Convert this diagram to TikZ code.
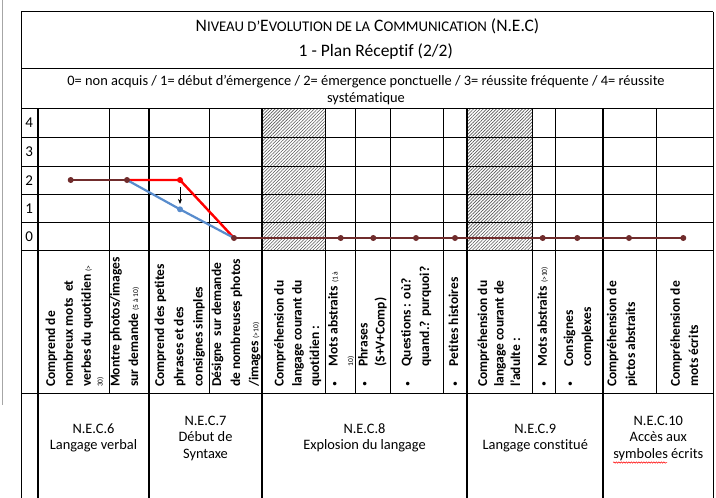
\documentclass[tikz,border=0pt]{standalone}
\usepackage{fontspec}
\setmainfont{Carlito}[Ligatures=NoCommon]
\usetikzlibrary{patterns,patterns.meta,decorations.pathmorphing,arrows.meta}
\definecolor{brn}{RGB}{112,44,44}
\definecolor{blu}{RGB}{88,140,205}
\newcommand\smc[1]{{\fontsize{14.8}{16}\selectfont #1}}
\newcommand\smtx[1]{{\fontsize{7.5}{9}\selectfont\mdseries #1}}
\newcommand\bul{{\fontsize{10}{12}\selectfont\mdseries •}}
\tikzset{
  gthin/.style={line width=0.8pt,black},
  gmid/.style={line width=1.3pt,black},
  gthick/.style={line width=1.9pt,black},
  rot/.style={rotate=90,anchor=base west,inner sep=0pt,font=\fontsize{13.5}{16}\selectfont\bfseries},
  btxt/.style={align=center,inner sep=0pt,font=\fontsize{14.4}{16.5}\selectfont},
  hatch/.style={pattern={Lines[angle=45,distance=2.3pt,line width=0.6pt]},pattern color=black!65},
  brline/.style={brn,line width=2.4pt},
  rdline/.style={red,line width=2.4pt},
  blline/.style={blu,line width=2.2pt},
  dot/.style={circle,inner sep=0pt,minimum size=6pt},
}
\begin{document}
\begin{tikzpicture}[x=1pt,y=-1pt]
\useasboundingbox (0,0) rectangle (716,498);
\fill[white] (0,0) rectangle (716,498);
% page edge
\draw[black!35,line width=0.8pt] (2,0) -- (2,405);
% hatched columns
\fill[hatch] (261.7,108.5) rectangle (325.5,250.7);
\fill[hatch] (466.7,108.5) rectangle (532.3,250.7);
% horizontal lines
\draw[gthin] (21,11.7) -- (713.3,11.7);
\draw[gthin] (21,68.8) -- (713.3,68.8);
\draw[gthick] (21,108.5) -- (713.3,108.5);
\foreach \yy in {137.3,166,194.3,222.7} \draw[gthin] (21,\yy) -- (713.3,\yy);
\draw[gmid] (21,250.7) -- (713.3,250.7);
\draw[gmid] (21,393.3) -- (713.3,393.3);
% vertical lines
\draw[gthin] (21,11.7) -- (21,498);
\draw[gthin] (713.3,11.7) -- (713.3,498);
\foreach \xx in {109.3,209,325.5,355,390.7,443.3,532.3,555.7,656} \draw[gthin] (\xx,108.5) -- (\xx,393.3);
\foreach \xx in {37.7,149.3,261.7,467.3,603.3} \draw[gthick] (\xx,108.5) -- (\xx,498);
% titles
\node[inner sep=0pt,font=\fontsize{17.5}{19}\selectfont] (title) at (367.5,26.7) {N\smc{IVEAU D’}E\smc{VOLUTION DE LA} C\smc{OMMUNICATION} (N.E.C)};
\node[inner sep=0pt,font=\fontsize{17.5}{19}\selectfont] (plan) at (375.8,51.7) {1 - Plan Réceptif (2/2)};
\node[btxt] (legend) at (366,90) {0= non acquis / 1= début d'émergence / 2= émergence ponctuelle / 3= réussite fréquente / 4= réussite\\systématique};
% row labels
\foreach \v/\yy in {4/123,3/151.7,2/180.2,1/208.5,0/236.7}
  \node[inner sep=0pt,font=\fontsize{15}{17}\selectfont] (lab\v) at (29.3,\yy) {\v};
% rotated texts
\node[rot] (a1) at (55,387) {Comprend de};
\node[rot] (a2) at (72.8,387) {nombreux mots\ \ et};
\node[rot] (a3) at (90.8,387) {verbes du quotidien \smtx{(>}};
\node[rot] (a4) at (102.5,387) {\smtx{30)}};
\node[rot] (b1) at (119.6,387) {Montre photos/images};
\node[rot] (b2) at (138,387) {sur demande \smtx{(5 à 10)}};
\node[rot] (c1) at (164,387) {Comprend des petites};
\node[rot] (c2) at (183.4,387) {phrases et des};
\node[rot] (c3) at (202.6,387) {consignes simples};
\node[rot] (d1) at (221.2,387) {Désigne\ \ sur demande};
\node[rot] (d2) at (240,387) {de nombreuses photos};
\node[rot] (d3) at (258.4,387) {/images \smtx{(>10)}};
\node[rot] (e1) at (283.6,387) {Compréhension du};
\node[rot] (e2) at (301.6,387) {langage courant du};
\node[rot] (e3) at (319.2,387) {quotidien :};
\node[rot] (f0) at (337.5,387) {\bul};
\node[rot] (f1) at (337.5,366.7) {Mots abstraits \smtx{(1 à}};
\node[rot] (f2) at (353.2,366.7) {\smtx{10)}};
\node[rot] (g0) at (367.6,387) {\bul};
\node[rot] (g1) at (367.6,366.7) {Phrases};
\node[rot] (g2) at (384.6,366.7) {(S+V+Comp)};
\node[rot] (h0) at (410.6,387) {\bul};
\node[rot] (h1) at (410.6,366.7) {Questions : où?};
\node[rot] (h2) at (429.1,366.7) {quand.? purquoi?};
\node[rot] (i0) at (458.1,387) {\bul};
\node[rot] (i1) at (458.1,366.7) {Petites histoires};
\node[rot] (j1) at (487.1,387) {Compréhension du};
\node[rot] (j2) at (503.6,387) {langage courant de};
\node[rot] (j3) at (520.1,387) {l'adulte :};
\node[rot] (k0) at (546.9,387) {\bul};
\node[rot] (k1) at (546.9,366.7) {Mots abstraits \smtx{(>10)}};
\node[rot] (l0) at (573.1,387) {\bul};
\node[rot] (l1) at (573.1,366.7) {Consignes};
\node[rot] (l2) at (591.1,366.7) {complexes};
\node[rot] (m1) at (616.4,387) {Compréhension de};
\node[rot] (m2) at (635.1,387) {pictos abstraits};
\node[rot] (n1) at (679.8,387) {Compréhension de};
\node[rot] (n2) at (698.1,387) {mots écrits};
% bottom texts
\node[btxt] (nec6) at (93.5,438) {N.E.C.6\\Langage verbal};
\node[btxt] (nec7) at (205.5,438) {N.E.C.7\\Début de\\Syntaxe};
\node[btxt] (nec8) at (364.5,438) {N.E.C.8\\Explosion du langage};
\node[btxt] (nec9) at (535.3,438) {N.E.C.9\\Langage constitué};
\node[btxt] (nec10) at (658.3,438) {N.E.C.10\\Accès aux\\symboles écrits};
\draw[red,line width=0.5pt,decorate,decoration={snake,amplitude=0.7pt,segment length=2.5pt}] (nec10.south west) ++(0,2) -- ++(54,0);
% chart points
\coordinate (p1) at (70.7,180);
\coordinate (p2) at (127,180);
\coordinate (pr) at (180,180);
\coordinate (pb) at (180,209.3);
\coordinate (p3) at (234,238);
\coordinate (p4) at (340.7,238);
\coordinate (p5) at (373.3,238);
\coordinate (p6) at (416,238);
\coordinate (p7) at (455,238);
\coordinate (p8) at (542.7,238);
\coordinate (p9) at (577.3,238);
\coordinate (p10) at (629,238);
\coordinate (p11) at (683.3,238);
\draw[rdline,line join=round] (p2) -- (pr) -- (p3);
\draw[blline,line join=round] (p2) -- (pb) -- (p3);
\draw[brline] (p1) -- (p2);
\draw[brline] (p3) -- (p11);
\node[dot,fill=red] (dr) at (pr) {};
\node[dot,fill=blu] (db) at (pb) {};
\foreach \p in {p1,p2,p3,p4,p5,p6,p7,p8,p9,p10,p11} \node[dot,fill=brn] (d\p) at (\p) {};
\coordinate (ar1) at (180,187);
\coordinate (ar2) at (180,204);
\draw[black,line width=0.9pt,-{Stealth[length=5pt,width=4pt]}] (ar1) -- (ar2);
\end{tikzpicture}
\end{document}
